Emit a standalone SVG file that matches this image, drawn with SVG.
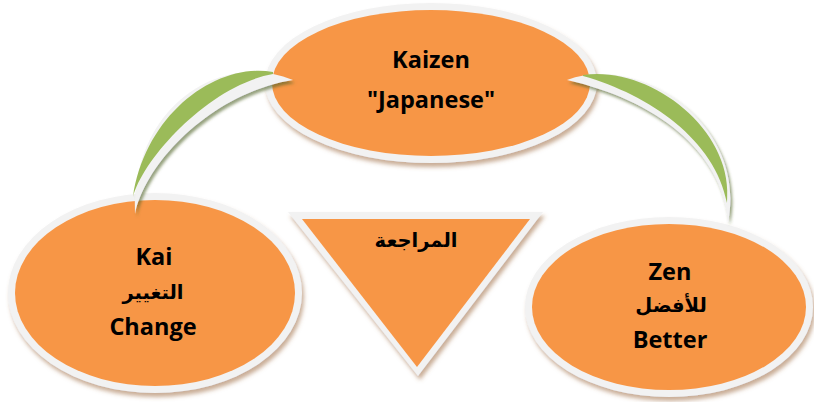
<svg xmlns="http://www.w3.org/2000/svg" width="814" height="402" viewBox="0 0 814 402">
<defs>
<filter id="sh" x="-10%" y="-10%" width="125%" height="130%">
<feDropShadow dx="2" dy="4" stdDeviation="2" flood-color="#9c6a3c" flood-opacity="0.55"/>
</filter>
<filter id="gsh" x="-20%" y="-20%" width="150%" height="150%">
<feDropShadow dx="2" dy="3" stdDeviation="1.5" flood-color="#4f6228" flood-opacity="0.6"/>
</filter>
<style>
.rim{fill:#f2f2f2}
.body{fill:#f79646}
.en{font-family:"Open Sans","Liberation Sans",sans-serif;font-weight:bold;font-size:23.5px;fill:#000;text-anchor:middle}
.ar{font-family:"DejaVu Sans","Noto Sans",sans-serif;font-weight:bold;font-size:19.5px;fill:#000;text-anchor:middle}
.arcrim{fill:#f2f2f2}
.arc{fill:#9bbb59}
</style>
</defs>
<g id="kaizen">
<ellipse class="rim" cx="431" cy="83" rx="166" ry="80" filter="url(#sh)"/>
<ellipse class="body" cx="431" cy="83" rx="159" ry="73"/>
<text class="en" x="431" y="68">Kaizen</text>
<text class="en" x="431" y="108">"Japanese"</text>
</g>
<g id="kai">
<ellipse class="rim" cx="155" cy="293" rx="147" ry="100" filter="url(#sh)"/>
<ellipse class="body" cx="155" cy="293" rx="140" ry="93"/>
<text class="en" x="154" y="265">Kai</text>
<text class="ar" x="153" y="299">التغيير</text>
<text class="en" x="153" y="335">Change</text>
</g>
<g id="zen">
<ellipse class="rim" cx="669" cy="307" rx="144" ry="90" filter="url(#sh)"/>
<ellipse class="body" cx="669" cy="307" rx="137" ry="83"/>
<text class="en" x="670" y="280">Zen</text>
<text class="ar" x="671" y="312">للأفضل</text>
<text class="en" x="670" y="348">Better</text>
</g>
<g id="review">
<polygon class="rim" points="288,212 543,212 418,376" filter="url(#sh)"/>
<polygon class="body" points="302,219 530,219 417,367"/>
<text class="ar" x="416" y="247">المراجعة</text>
</g>
<g id="connectors">
<g id="arc-left">
<path class="arcrim" filter="url(#gsh)" d="M293,80 C222,50 132,105 135,214 C146,160 215,92 293,80 Z"/>
<path class="arc" d="M273,72 C215,62 145,115 133,197 C143,158 210,85 273,74 Z"/>
</g>
<g id="arc-right">
<path class="arcrim" filter="url(#gsh)" d="M567,80 C640,52 748,125 728,222 C722,150 655,100 567,80 Z"/>
<path class="arc" d="M583,75 C650,65 735,130 727,203 C715,140 650,95 583,76 Z"/>
</g>
</g>
</svg>
